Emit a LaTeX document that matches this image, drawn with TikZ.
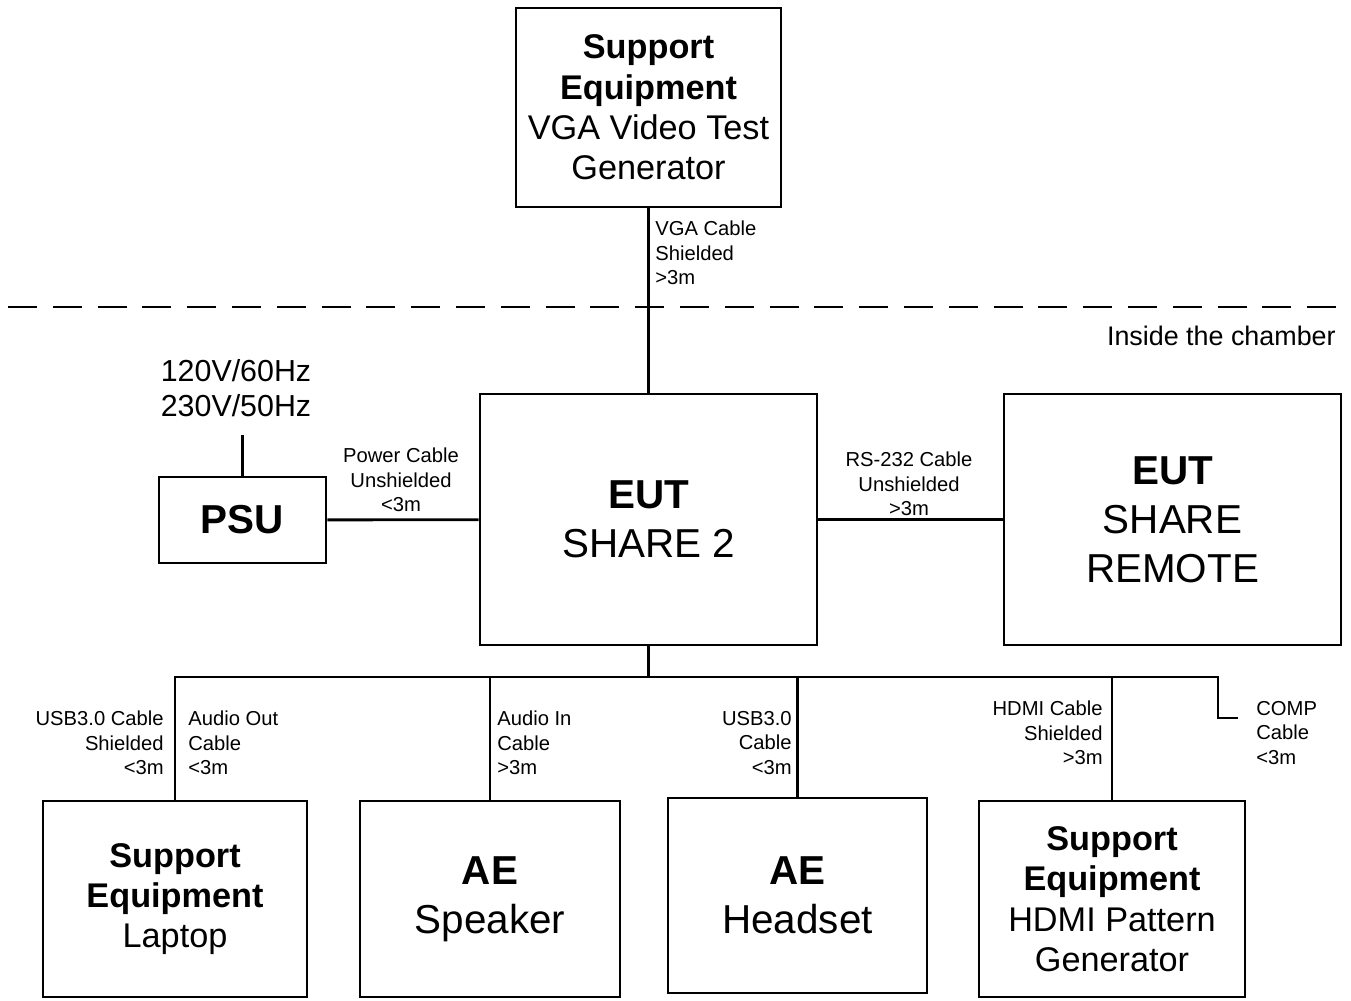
\documentclass[tikz,border=0pt]{standalone}
\usepackage{fontspec}
\setmainfont{Liberation Sans}
\usetikzlibrary{calc}

\begin{document}
\begin{tikzpicture}[x=0.02cm,y=-0.02cm,
    box/.style={draw,line width=1.6pt,align=center,inner sep=0pt,font=\fontsize{19.5}{23}\selectfont},
    bigbox/.style={box,font=\fontsize{23}{28}\selectfont},
    cbl/.style={inner sep=0pt,font=\fontsize{11.5}{14}\selectfont},
    wire/.style={line width=1.6pt}]
    \useasboundingbox (0,0) rectangle (1351,1000);
    \node[box,minimum width=5.3cm,minimum height=3.98cm] (vga) at (648.5,107.5) {\textbf{Support}\\\textbf{Equipment}\\VGA Video Test\\Generator};
    \node[bigbox,minimum width=6.74cm,minimum height=5.02cm] (eut) at (648.5,519.5) {\textbf{EUT}\\SHARE 2};
    \node[bigbox,minimum width=3.34cm,minimum height=1.72cm] (psu) at (242.5,520) {\textbf{PSU}};
    \node[bigbox,minimum width=6.74cm,minimum height=5.02cm] (remote) at (1172.5,519.5) {\textbf{EUT}\\SHARE\\REMOTE};
    \node[box,minimum width=5.28cm,minimum height=3.92cm] (laptop) at (175,899) {\textbf{Support}\\\textbf{Equipment}\\Laptop};
    \node[bigbox,minimum width=5.2cm,minimum height=3.92cm] (speaker) at (490,899) {\textbf{AE}\\Speaker};
    \node[bigbox,minimum width=5.18cm,minimum height=3.9cm] (headset) at (797.5,895.5) {\textbf{AE}\\Headset};
    \node[box,minimum width=5.32cm,minimum height=3.92cm] (hdmi) at (1112,899) {\textbf{Support}\\\textbf{Equipment}\\HDMI Pattern\\Generator};
    \coordinate (mains) at (242.5,435);
    \coordinate (bus) at (648.5,677);
    \coordinate (busL) at (175,677);
    \coordinate (busR) at (1218,677);
    \coordinate (comp) at (1238,718);
    \draw[line width=1.3pt,dash pattern=on 16.5pt off 9pt] (8,307) -- (1343,307);
    \draw[wire] (vga) -- (eut);
    \draw[wire] (psu) -- (eut);
    \draw[wire] (eut) -- (remote);
    \draw[wire] (psu) -- (mains);
    \draw[wire] (eut) -- (bus);
    \draw[wire] (laptop.north) -- (busL) -- (busR) |- (comp);
    \draw[wire] (speaker.north) -- (speaker.north |- bus);
    \draw[wire] (headset.north) -- (headset.north |- bus);
    \draw[wire] (hdmi.north) -- (hdmi.north |- bus);
    \node[inner sep=0pt,align=center,font=\fontsize{17.3}{19.8}\selectfont] (volt) at (236,388) {120V/60Hz\\230V/50Hz};
    \node[inner sep=0pt,anchor=east,font=\fontsize{15.3}{18}\selectfont] (inside) at (1336,336) {Inside the chamber};
    \node[cbl,anchor=west,align=left] (lvga) at (655,253) {VGA Cable\\Shielded\\>3m};
    \node[cbl,align=center] (lpow) at (401,480) {Power Cable\\Unshielded\\<3m};
    \node[cbl,align=center] (lrs) at (909,484) {RS-232 Cable\\Unshielded\\>3m};
    \node[cbl,anchor=east,align=right] (lusba) at (164,743) {USB3.0 Cable\\Shielded\\<3m};
    \node[cbl,anchor=west,align=left] (laout) at (188,743) {Audio Out\\Cable\\<3m};
    \node[cbl,anchor=west,align=left] (lain) at (497,743) {Audio In\\Cable\\>3m};
    \node[cbl,anchor=east,align=right] (lusbb) at (792,743) {USB3.0\\Cable\\<3m};
    \node[cbl,anchor=east,align=right] (lhdmi) at (1103,733) {HDMI Cable\\Shielded\\>3m};
    \node[cbl,anchor=west,align=left] (lcomp) at (1256,733) {COMP\\Cable\\<3m};
\end{tikzpicture}
\end{document}
